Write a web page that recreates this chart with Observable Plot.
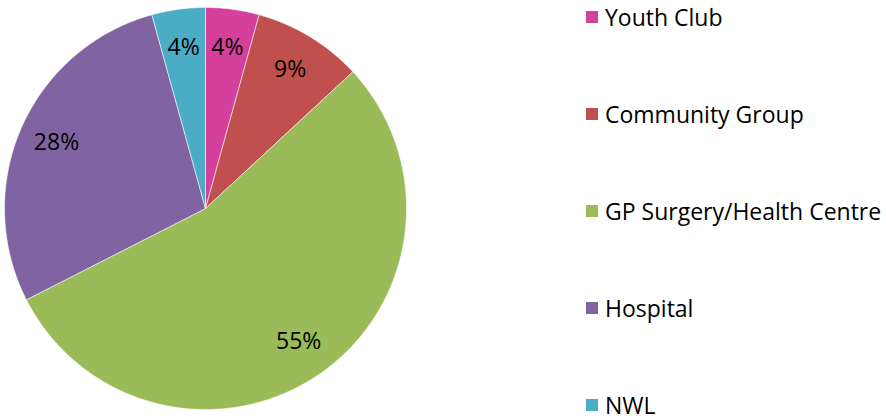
<!DOCTYPE html>
<html>
<head>
<meta charset="utf-8">
<script src="https://cdn.jsdelivr.net/npm/d3@7"></script>
<script src="https://cdn.jsdelivr.net/npm/@observablehq/plot@0.6"></script>
<style>
  body { margin: 0; background: #fff; }
  #wrap { position: relative; width: 886px; height: 420px; overflow: hidden; font-family: "Open Sans", "Noto Sans", sans-serif; }
  #legend { position: absolute; left: 586px; top: 0; width: 300px; height: 420px; }
  .item { position: absolute; left: 0; display: flex; align-items: center; font-size: 23px; line-height: 24px; color: #000; white-space: nowrap; transform: translateY(-50%); }
  .sw { width: 12px; height: 12px; margin-right: 7px; flex: none; }
</style>
</head>
<body>
<div id="wrap"><div id="chart"></div><div id="legend"></div></div>
<script>
const categories = ["Youth Club", "Community Group", "GP Surgery/Health Centre", "Hospital", "NWL"];
const values = [4.3, 8.8, 54.4, 28.2, 4.3];
const labels = ["4%", "9%", "55%", "28%", "4%"];
const colors = ["#D4409C", "#C0504D", "#9BBB59", "#8064A2", "#4BACC6"];

const arcs = d3.pie().sort(null).value(d => d)(values);

// polygon points for each slice (angles clockwise from 12 o'clock)
const pts = [];
arcs.forEach((a, i) => {
  pts.push({cat: categories[i], x: 0, y: 0});
  const n = Math.max(2, Math.ceil((a.endAngle - a.startAngle) / 0.005));
  for (let k = 0; k <= n; k++) {
    const t = a.startAngle + (a.endAngle - a.startAngle) * k / n;
    pts.push({cat: categories[i], x: Math.sin(t), y: Math.cos(t)});
  }
  pts.push({cat: categories[i], x: 0, y: 0});
});
const lab = arcs.map((a, i) => {
  const t = (a.startAngle + a.endAngle) / 2;
  return {label: labels[i], x: 0.81 * Math.sin(t), y: 0.81 * Math.cos(t)};
});

const chart = Plot.plot({
  width: 886, height: 420,
  margin: 0,
  x: {domain: [-1, 1], range: [4, 406], axis: null},
  y: {domain: [-1, 1], range: [409, 7], axis: null},
  color: {domain: categories, range: colors},
  style: {fontFamily: '"Open Sans", "Noto Sans", sans-serif'},
  marks: [
    Plot.line(pts, {x: "x", y: "y", z: "cat", fill: "cat", stroke: "white", strokeWidth: 0.8, strokeOpacity: 0.7}),
    Plot.text(lab, {x: "x", y: "y", text: "label", fontSize: 23, fill: "#000"})
  ]
});
document.getElementById("chart").appendChild(chart);

const leg = document.getElementById("legend");
categories.forEach((c, i) => {
  const it = document.createElement("div");
  it.className = "item";
  it.style.top = (17 + i * 97) + "px";
  it.innerHTML = `<span class="sw" style="background:${colors[i]}"></span><span>${c}</span>`;
  leg.appendChild(it);
});
</script>
</body>
</html>
